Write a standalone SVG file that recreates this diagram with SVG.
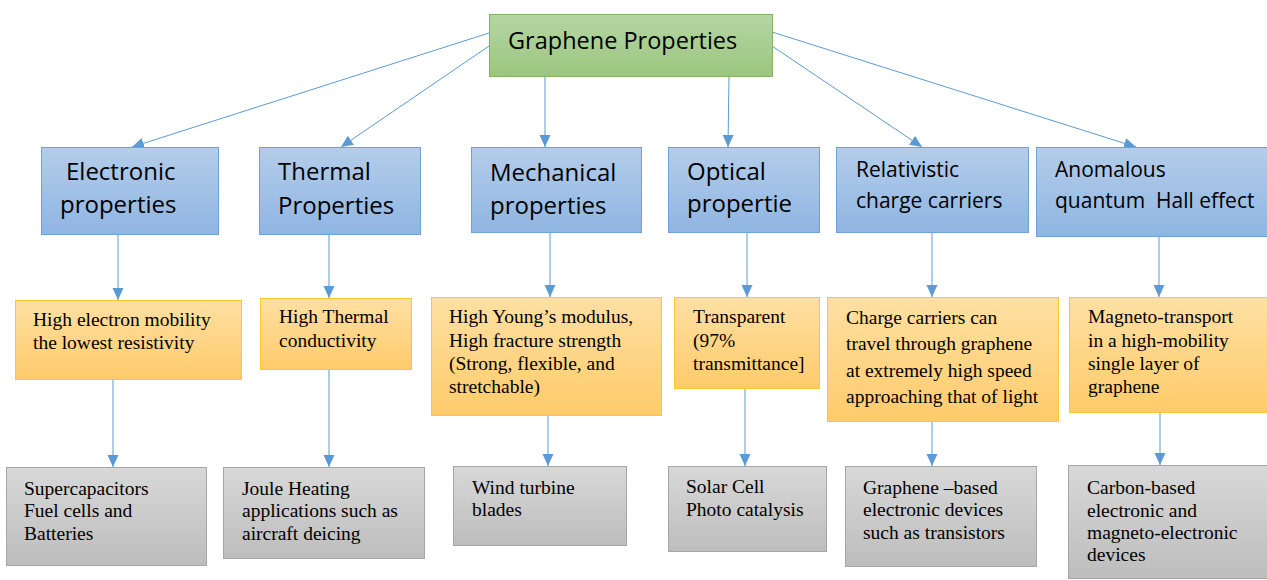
<svg xmlns="http://www.w3.org/2000/svg" width="1267" height="580" viewBox="0 0 1267 580">
<defs>
<linearGradient id="gGreen" x1="0" y1="0" x2="0" y2="1"><stop offset="0" stop-color="#b5d6a5"/><stop offset="1" stop-color="#9bc67e"/></linearGradient>
<linearGradient id="gBlue" x1="0" y1="0" x2="0" y2="1"><stop offset="0" stop-color="#b4cdea"/><stop offset="1" stop-color="#8fb5e2"/></linearGradient>
<linearGradient id="gOrange" x1="0" y1="0" x2="0" y2="1"><stop offset="0" stop-color="#ffe0a3"/><stop offset="1" stop-color="#ffcb6a"/></linearGradient>
<linearGradient id="gGrey" x1="0" y1="0" x2="0" y2="1"><stop offset="0" stop-color="#d8d8d8"/><stop offset="1" stop-color="#bdbdbd"/></linearGradient>
<marker id="arr" viewBox="0 0 12 12" refX="12" refY="6" markerWidth="12" markerHeight="12" markerUnits="userSpaceOnUse" orient="auto"><path d="M0,0.5 L12,6 L0,11.5 z" fill="#5b9bd5"/></marker>
</defs>
<style>
.root{fill:url(#gGreen);stroke:#82b366;stroke-width:1}
.blue{fill:url(#gBlue);stroke:#6fa0d8;stroke-width:1}
.org{fill:url(#gOrange);stroke:#ffc62e;stroke-width:1}
.grey{fill:url(#gGrey);stroke:#a6a6a6;stroke-width:1}
.sans{font-family:"Open Sans","Liberation Sans",sans-serif;fill:#000}
.serif{font-family:"Liberation Serif","Times New Roman",serif;font-size:19.5px;fill:#000}
.conn line{stroke:#5b9bd5;stroke-width:1;marker-end:url(#arr)}
</style>
<rect width="1267" height="580" fill="#fff"/>
<g class="conn" id="connectors">
<line x1="489" y1="33" x2="132" y2="147"/>
<line x1="489" y1="46" x2="341" y2="147"/>
<line x1="545" y1="76" x2="545" y2="147"/>
<line x1="729" y1="76" x2="728" y2="147"/>
<line x1="772" y1="46" x2="922" y2="147"/>
<line x1="772" y1="32" x2="1136" y2="147"/>
<line x1="118" y1="234" x2="118" y2="300"/>
<line x1="329" y1="234" x2="329" y2="298"/>
<line x1="550" y1="232" x2="550" y2="297"/>
<line x1="747" y1="232" x2="747" y2="297"/>
<line x1="932" y1="232" x2="932" y2="297"/>
<line x1="1159" y1="236" x2="1159" y2="297"/>
<line x1="113" y1="379" x2="113" y2="467"/>
<line x1="329" y1="369" x2="329" y2="467"/>
<line x1="548" y1="415" x2="548" y2="466"/>
<line x1="745" y1="388" x2="745" y2="466"/>
<line x1="932" y1="421" x2="932" y2="466"/>
<line x1="1160" y1="412" x2="1160" y2="465"/>
</g>
<g id="root"><rect class="root" x="489.5" y="14.5" width="283" height="62"/><text class="sans" x="508" y="49" font-size="23.5">Graphene Properties</text></g>
<g id="electronic"><rect class="blue" x="41.5" y="147.5" width="177" height="87"/><text class="sans" font-size="24"><tspan x="66" y="180">Electronic</tspan><tspan x="60" y="213">properties</tspan></text></g>
<g id="thermal"><rect class="blue" x="259.5" y="147.5" width="161" height="87"/><text class="sans" font-size="24"><tspan x="278" y="180">Thermal</tspan><tspan x="278" y="214">Properties</tspan></text></g>
<g id="mechanical"><rect class="blue" x="471.5" y="147.5" width="170" height="85"/><text class="sans" font-size="24"><tspan x="490" y="181">Mechanical</tspan><tspan x="490" y="214">properties</tspan></text></g>
<g id="optical"><rect class="blue" x="668.5" y="147.5" width="151" height="85"/><text class="sans" font-size="24"><tspan x="687" y="180">Optical</tspan><tspan x="687" y="212">propertie</tspan></text></g>
<g id="relativistic"><rect class="blue" x="836.5" y="147.5" width="192" height="85"/><text class="sans" font-size="21"><tspan x="856" y="177">Relativistic</tspan><tspan x="856" y="208">charge carriers</tspan></text></g>
<g id="anomalous"><rect class="blue" x="1036.5" y="147.5" width="231" height="89"/><text class="sans" font-size="21"><tspan x="1055" y="177">Anomalous</tspan><tspan x="1055" y="208">quantum&#160; Hall effect</tspan></text></g>
<g id="mobility"><rect class="org" x="15.5" y="300.5" width="226" height="79"/><text class="serif"><tspan x="33" y="326">High electron mobility</tspan><tspan x="33" y="349">the lowest resistivity</tspan></text></g>
<g id="conductivity"><rect class="org" x="260.5" y="298.5" width="151" height="71"/><text class="serif"><tspan x="279" y="323">High Thermal</tspan><tspan x="279" y="347">conductivity</tspan></text></g>
<g id="modulus"><rect class="org" x="431.5" y="297.5" width="230" height="118"/><text class="serif"><tspan x="449" y="323">High Young’s modulus,</tspan><tspan x="449" y="347">High fracture strength</tspan><tspan x="449" y="370">(Strong, flexible, and</tspan><tspan x="449" y="393">stretchable)</tspan></text></g>
<g id="transparent"><rect class="org" x="674.5" y="297.5" width="145" height="91"/><text class="serif"><tspan x="693" y="323">Transparent</tspan><tspan x="693" y="347">(97%</tspan><tspan x="693" y="370">transmittance]</tspan></text></g>
<g id="carriers"><rect class="org" x="827.5" y="297.5" width="231" height="124"/><text class="serif"><tspan x="846" y="324">Charge carriers can</tspan><tspan x="846" y="350">travel through graphene</tspan><tspan x="846" y="377">at extremely high speed</tspan><tspan x="846" y="403">approaching that of light</tspan></text></g>
<g id="magneto"><rect class="org" x="1069.5" y="297.5" width="198" height="115"/><text class="serif"><tspan x="1088" y="323">Magneto-transport</tspan><tspan x="1088" y="347">in a high-mobility</tspan><tspan x="1088" y="370">single layer of</tspan><tspan x="1088" y="393">graphene</tspan></text></g>
<g id="supercap"><rect class="grey" x="6.5" y="467.5" width="200" height="98"/><text class="serif"><tspan x="24" y="495">Supercapacitors</tspan><tspan x="24" y="517">Fuel cells and</tspan><tspan x="24" y="540">Batteries</tspan></text></g>
<g id="joule"><rect class="grey" x="223.5" y="467.5" width="201" height="91"/><text class="serif"><tspan x="242" y="495">Joule Heating</tspan><tspan x="242" y="517">applications such as</tspan><tspan x="242" y="540">aircraft deicing</tspan></text></g>
<g id="wind"><rect class="grey" x="453.5" y="466.5" width="173" height="79"/><text class="serif"><tspan x="472" y="494">Wind turbine</tspan><tspan x="472" y="516">blades</tspan></text></g>
<g id="solar"><rect class="grey" x="668.5" y="466.5" width="158" height="85"/><text class="serif"><tspan x="686" y="493">Solar Cell</tspan><tspan x="686" y="516">Photo catalysis</tspan></text></g>
<g id="devices"><rect class="grey" x="845.5" y="466.5" width="191" height="100"/><text class="serif"><tspan x="863" y="494">Graphene –based</tspan><tspan x="863" y="516">electronic devices</tspan><tspan x="863" y="539">such as transistors</tspan></text></g>
<g id="carbon"><rect class="grey" x="1068.5" y="465.5" width="199" height="113"/><text class="serif"><tspan x="1087" y="494">Carbon-based</tspan><tspan x="1087" y="517">electronic and</tspan><tspan x="1087" y="539">magneto-electronic</tspan><tspan x="1087" y="561">devices</tspan></text></g>
</svg>
